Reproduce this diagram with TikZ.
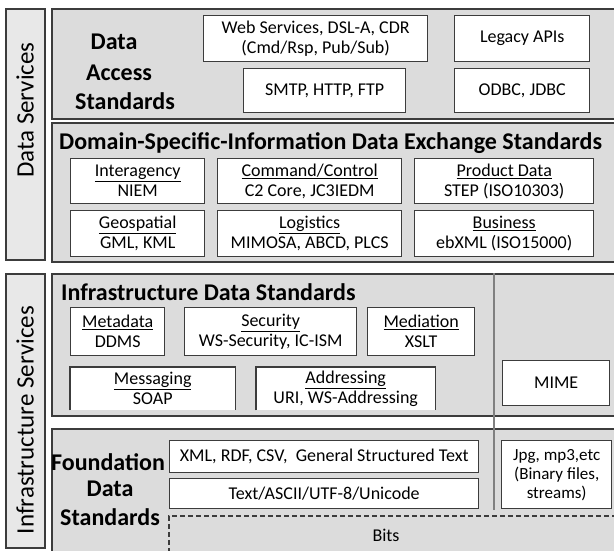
\documentclass[tikz,border=0pt]{standalone}
\usepackage{fontspec}
\setmainfont{Carlito}
\definecolor{panelgray}{RGB}{220,220,220}
\definecolor{bargray}{RGB}{232,232,232}
\definecolor{edgegray}{RGB}{60,60,60}
\begin{document}
\begin{tikzpicture}[
        x=1pt, y=-1pt,
        font=\fontsize{18}{20}\selectfont
    ]
    \tikzset{
        panel/.style = {rectangle, anchor=north west, fill=panelgray, draw=edgegray, line width=1.8pt, inner sep=0pt},
        sidebar/.style = {rectangle, anchor=north west, fill=bargray, draw=edgegray, line width=1.6pt, inner sep=0pt},
        barlabel/.style = {rotate=90, font=\fontsize{25}{28}\selectfont},
        title/.style = {font=\bfseries\fontsize{24}{28}\selectfont, inner sep=0pt},
        stdbox/.style = {rectangle, anchor=north west, fill=white, draw=edgegray, line width=1.4pt, align=center, inner sep=0pt},
        openbox/.style = {rectangle, anchor=north west, fill=white, align=center, inner sep=0pt},
        boxline/.style = {draw=edgegray, line width=1.4pt},
        bitsbox/.style = {rectangle, anchor=north west, draw=edgegray, line width=1.5pt, dash pattern=on 5pt off 3pt, inner sep=0pt},
        divider/.style = {draw=gray, line width=1.2pt},
    }
    \clip (0,0) rectangle (614,550);
    % side bars
    \node[sidebar, minimum width=39pt, minimum height=251pt] (dsbar) at (5,8) {};
    \node[barlabel] (dslabel) at (25,110) {Data Services};
    \node[sidebar, minimum width=39pt, minimum height=274pt] (isbar) at (5,273) {};
    \node[barlabel] (islabel) at (25,420) {Infrastructure Services};
    %
    \node[panel, minimum width=579pt, minimum height=110pt] (dapanel) at (51,8) {};
    \node[panel, minimum width=579pt, minimum height=139pt] (dxpanel) at (51,122) {};
    \node[panel, minimum width=579pt, minimum height=142pt] (inpanel) at (51,273) {};
    \node[panel, minimum width=579pt, minimum height=140pt] (fdpanel) at (51,428) {};
    \coordinate (dvtop) at (494,273);
    \coordinate (dvbot) at (494,510);
    \draw[divider] (dvtop) -- (dvbot);
    % data access standards
    \node[title] (datext) at (114,42) {Data};
    \node[title] (actext) at (119,73) {Access};
    \node[title] (sttext) at (125,101) {Standards};
    \node[stdbox, minimum width=224pt, minimum height=46pt] (websvc) at (203,15) {Web Services, DSL-A, CDR\\(Cmd/Rsp, Pub/Sub)};
    \node[stdbox, minimum width=135pt, minimum height=46pt] (legacy) at (454,15) {Legacy APIs};
    \node[stdbox, minimum width=162pt, minimum height=44pt] (smtp) at (243,68) {SMTP, HTTP, FTP};
    \node[stdbox, minimum width=135pt, minimum height=44pt] (odbc) at (454,68) {ODBC, JDBC};
    % domain specific
    \node[title, anchor=west] (dxtitle) at (59,143) {Domain-Specific-Information Data Exchange Standards};
    \node[stdbox, minimum width=134pt, minimum height=45pt] (intag) at (70,158) {\underline{Interagency}\\NIEM};
    \node[stdbox, minimum width=184pt, minimum height=45pt] (cmdctl) at (217,158) {\underline{Command/Control}\\C2 Core, JC3IEDM};
    \node[stdbox, minimum width=179pt, minimum height=45pt] (prod) at (414,158) {\underline{Product Data}\\STEP (ISO10303)};
    \node[stdbox, minimum width=134pt, minimum height=46pt] (geo) at (70,210) {\underline{Geospatial}\\GML, KML};
    \node[stdbox, minimum width=184pt, minimum height=46pt] (logi) at (217,210) {\underline{Logistics}\\MIMOSA, ABCD, PLCS};
    \node[stdbox, minimum width=179pt, minimum height=46pt] (busi) at (414,210) {\underline{Business}\\ebXML (ISO15000)};
    % infrastructure
    \node[title, anchor=west] (intitle) at (61,292) {Infrastructure Data Standards};
    \node[stdbox, minimum width=94pt, minimum height=48pt] (meta) at (70,307) {\underline{Metadata}\\DDMS};
    \node[stdbox, minimum width=172pt, minimum height=48pt] (secu) at (184,307) {\underline{Security}\\WS-Security, IC-ISM};
    \node[stdbox, minimum width=107pt, minimum height=48pt] (medi) at (367,307) {\underline{Mediation}\\XSLT};
    \node[openbox, minimum width=165pt, minimum height=43pt] (msg) at (70,367) {\underline{Messaging}\\SOAP};
    \draw[boxline] (msg.south west) -- (msg.north west) -- (msg.north east) -- (msg.south east);
    \node[openbox, minimum width=179pt, minimum height=43pt] (addr) at (256,367) {\underline{Addressing}\\URI, WS-Addressing};
    \draw[boxline] (addr.south west) -- (addr.north west) -- (addr.north east) -- (addr.south east);
    \node[stdbox, minimum width=107pt, minimum height=45pt] (mime) at (502,360) {MIME};
    % foundation
    \node[title] (fntext) at (108,462) {Foundation};
    \node[title] (fdtext) at (110,489) {Data};
    \node[title] (fstext) at (110,517) {Standards};
    \node[stdbox, minimum width=309pt, minimum height=32pt] (xml) at (169,440) {XML, RDF, CSV,\ \ General Structured Text};
    \node[stdbox, minimum width=309pt, minimum height=30pt] (txt) at (169,478) {Text/ASCII/UTF-8/Unicode};
    \node[stdbox, minimum width=110pt, minimum height=68pt, font=\fontsize{17}{19}\selectfont] (jpg) at (501,440) {Jpg, mp3,etc\\(Binary files,\\streams)};
    \node[bitsbox, minimum width=460pt, minimum height=40pt] (bits) at (168,515) {};
    \node (bitstext) at (386,535) {Bits};
\end{tikzpicture}
\end{document}
